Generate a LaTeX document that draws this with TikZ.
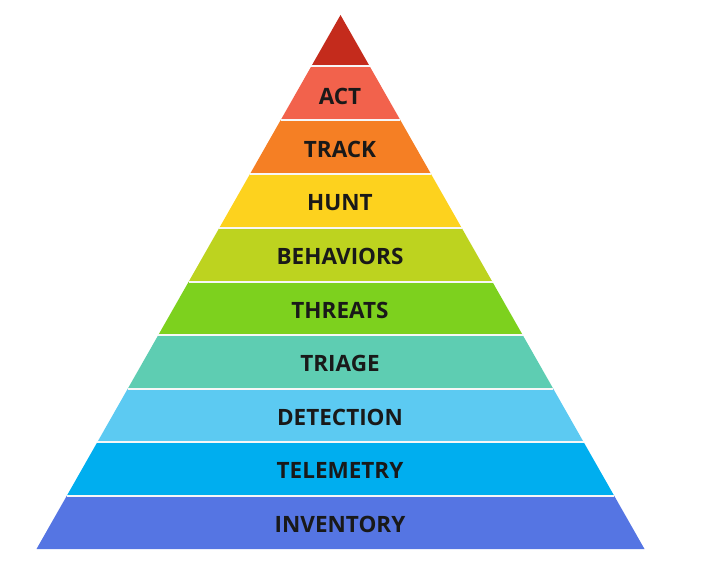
\documentclass[tikz,border=0pt]{standalone}
\usepackage{fontspec}
\setmainfont{Open Sans}
\usepackage{tikz}
\usetikzlibrary{calc}

\definecolor{apexred}{HTML}{C42B1C}
\definecolor{actred}{HTML}{F2624C}
\definecolor{trackorange}{HTML}{F57F24}
\definecolor{huntyellow}{HTML}{FDD21E}
\definecolor{behavlime}{HTML}{BDD31F}
\definecolor{threatgreen}{HTML}{7DD11E}
\definecolor{triageteal}{HTML}{5ECDB2}
\definecolor{detectsky}{HTML}{5CCAF2}
\definecolor{telemblue}{HTML}{00AEEF}
\definecolor{invblue}{HTML}{5575E3}

\begin{document}
\begin{tikzpicture}[x=1pt,y=-1pt]
    \tikzstyle{band}=[draw=white!70!gray!20,line width=1.2pt,line join=miter]
    \tikzstyle{label}=[font=\bfseries\fontsize{22.5}{22.5}\selectfont,text=black!90,inner sep=0pt]
    \useasboundingbox (0,0) rectangle (711,569);
    \coordinate (A) at (340.5,15);
    \coordinate (L) at (36.5,549);
    \coordinate (R) at (644.5,549);

    % tip of the pyramid
    \fill[apexred] (A) -- ($(A)!{51/534}!(R)$) -- ($(A)!{51/534}!(L)$) -- cycle;

    \foreach \name/\col/\ya/\yb in {act/actred/66/120, track/trackorange/120/174,
            hunt/huntyellow/174/228, behav/behavlime/228/282, threat/threatgreen/282/335,
            triage/triageteal/335/389, detect/detectsky/389/442, telem/telemblue/442/496,
            inv/invblue/496/549}
        \fill[\col] ($(A)!{(\ya-15)/534}!(L)$) -- ($(A)!{(\ya-15)/534}!(R)$)
            -- ($(A)!{(\yb-15)/534}!(R)$) -- ($(A)!{(\yb-15)/534}!(L)$) -- cycle;

    % thin light lines between the bands
    \foreach \y in {66,120,174,228,282,335,389,442,496}
        \draw[band] ($(A)!{(\y-15)/534}!(L)$) -- ($(A)!{(\y-15)/534}!(R)$);

    \foreach \name/\txt/\y in {act/ACT/96, track/TRACK/149, hunt/HUNT/203, behav/BEHAVIORS/256,
            threat/THREATS/310, triage/TRIAGE/363, detect/DETECTION/417, telem/TELEMETRY/470,
            inv/INVENTORY/524}
        \node[label] (T-\name) at (340,\y) {\txt};
\end{tikzpicture}
\end{document}
